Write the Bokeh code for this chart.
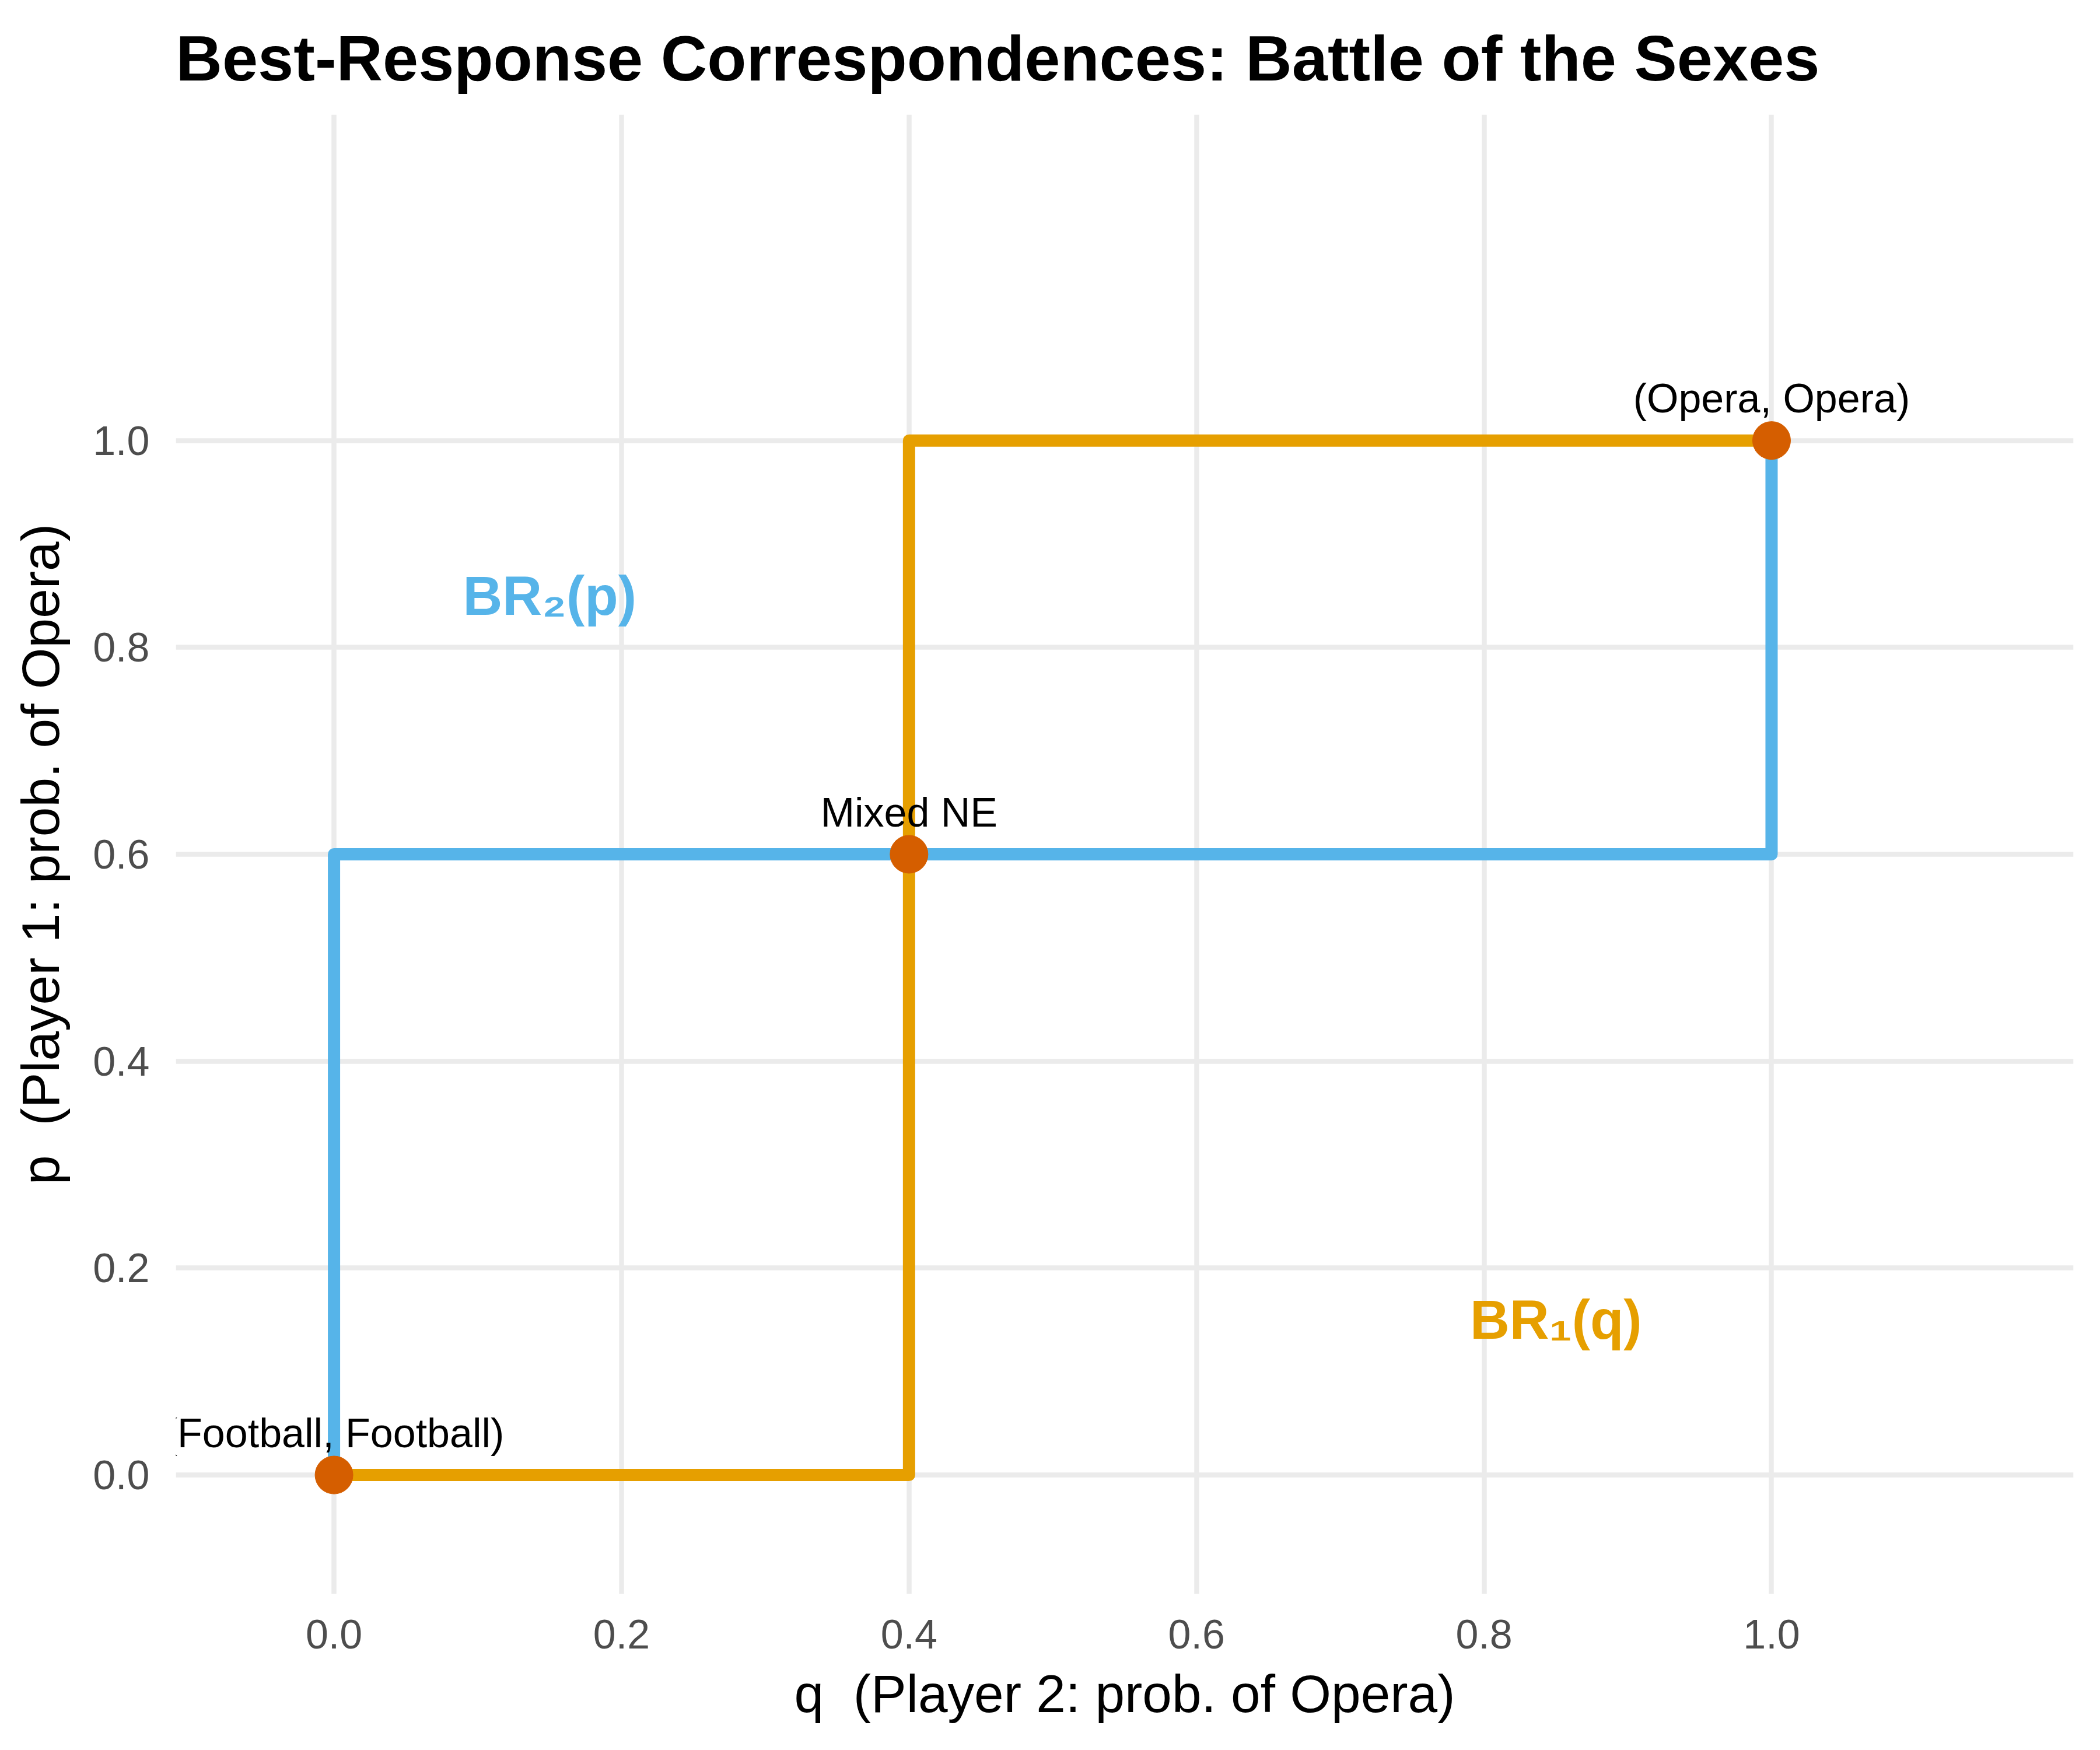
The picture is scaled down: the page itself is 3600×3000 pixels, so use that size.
from bokeh.plotting import figure
from bokeh.models import Range1d, FixedTicker, ColumnDataSource, NumeralTickFormatter
from bokeh.core.properties import value
from bokeh.embed import file_html
from bokeh.resources import INLINE

# best-response paths (q = player 2 prob. of Opera, p = player 1 prob. of Opera)
br1_q = [0.0, 0.4, 0.4, 1.0]
br1_p = [0.0, 0.0, 1.0, 1.0]
br2_q = [0.0, 0.0, 1.0, 1.0]
br2_p = [0.0, 0.6, 0.6, 1.0]

# Nash equilibria
ne_q = [0.0, 0.4, 1.0]
ne_p = [0.0, 0.6, 1.0]
ne_labels = ["(Football, Football)", "Mixed NE", "(Opera, Opera)"]

# curve labels
br_labels = ["BR\u2081(q)", "BR\u2082(p)"]
br_label_q = [0.85, 0.15]
br_label_p = [0.15, 0.85]
br_colors = ["#E69F00", "#56B4E9"]

ticks = [0.0, 0.2, 0.4, 0.6, 0.8, 1.0]
x_lim = (-0.05, 1.15)
y_lim = (-0.05, 1.25)

FONT = "Liberation Sans"


def expand(lim, frac=0.05):
    d = (lim[1] - lim[0]) * frac
    return Range1d(lim[0] - d, lim[1] + d)


p = figure(width=3584, height=2984,
           x_range=expand(x_lim), y_range=expand(y_lim),
           output_backend="svg", toolbar_location=None,
           title="Best-Response Correspondences: Battle of the Sexes",
           x_axis_label="q\u00a0 (Player 2: prob. of Opera)",
           y_axis_label="p\u00a0 (Player 1: prob. of Opera)",
           min_border_left=301, min_border_right=30,
           min_border_top=195, min_border_bottom=252)

p.outline_line_color = None
p.background_fill_color = "white"
p.border_fill_color = "white"

p.title.text_font = FONT
p.title.text_font_size = "110px"
p.title.text_font_style = "bold"
p.title.text_color = "black"
p.title.align = "left"
p.title.standoff = 71

for ax in (p.xaxis, p.yaxis):
    ax.ticker = FixedTicker(ticks=ticks)
    ax.formatter = NumeralTickFormatter(format="0.0")
    ax.axis_line_color = None
    ax.major_tick_line_color = None
    ax.minor_tick_line_color = None
    ax.major_tick_out = 0
    ax.major_tick_in = 0
    ax.major_label_text_font = FONT
    ax.major_label_text_font_size = "70px"
    ax.major_label_text_color = "#4D4D4D"
    ax.axis_label_text_font = FONT
    ax.axis_label_text_font_size = "91px"
    ax.axis_label_text_font_style = "normal"
    ax.axis_label_text_color = "black"

p.xaxis.major_label_standoff = 44
p.xaxis.axis_label_standoff = 24
p.yaxis.major_label_standoff = 45
p.yaxis.axis_label_standoff = 36

for g in (p.xgrid, p.ygrid):
    g.ticker = FixedTicker(ticks=ticks)
    g.grid_line_color = "#EBEBEB"
    g.grid_line_width = 8.5

p.line(br1_q, br1_p, line_color="#E69F00", line_width=21, line_join="round")
p.line(br2_q, br2_p, line_color="#56B4E9", line_width=21, line_join="round")

ne_src = ColumnDataSource(dict(q=ne_q, p=ne_p, label=ne_labels))
p.scatter("q", "p", source=ne_src, size=65, color="#D55E00")
p.text("q", "p", text="label", source=ne_src, y_offset=-72,
       text_align="center", text_baseline="alphabetic",
       text_font=value(FONT), text_font_size="70px", text_color="black")

br_src = ColumnDataSource(dict(q=br_label_q, p=br_label_p,
                               label=br_labels, color=br_colors))
p.text("q", "p", text="label", source=br_src, text_color="color",
       text_align="center", text_baseline="middle",
       text_font=value(FONT), text_font_size="94px", text_font_style="bold")

open("out.html", "w").write(file_html(p, INLINE))
